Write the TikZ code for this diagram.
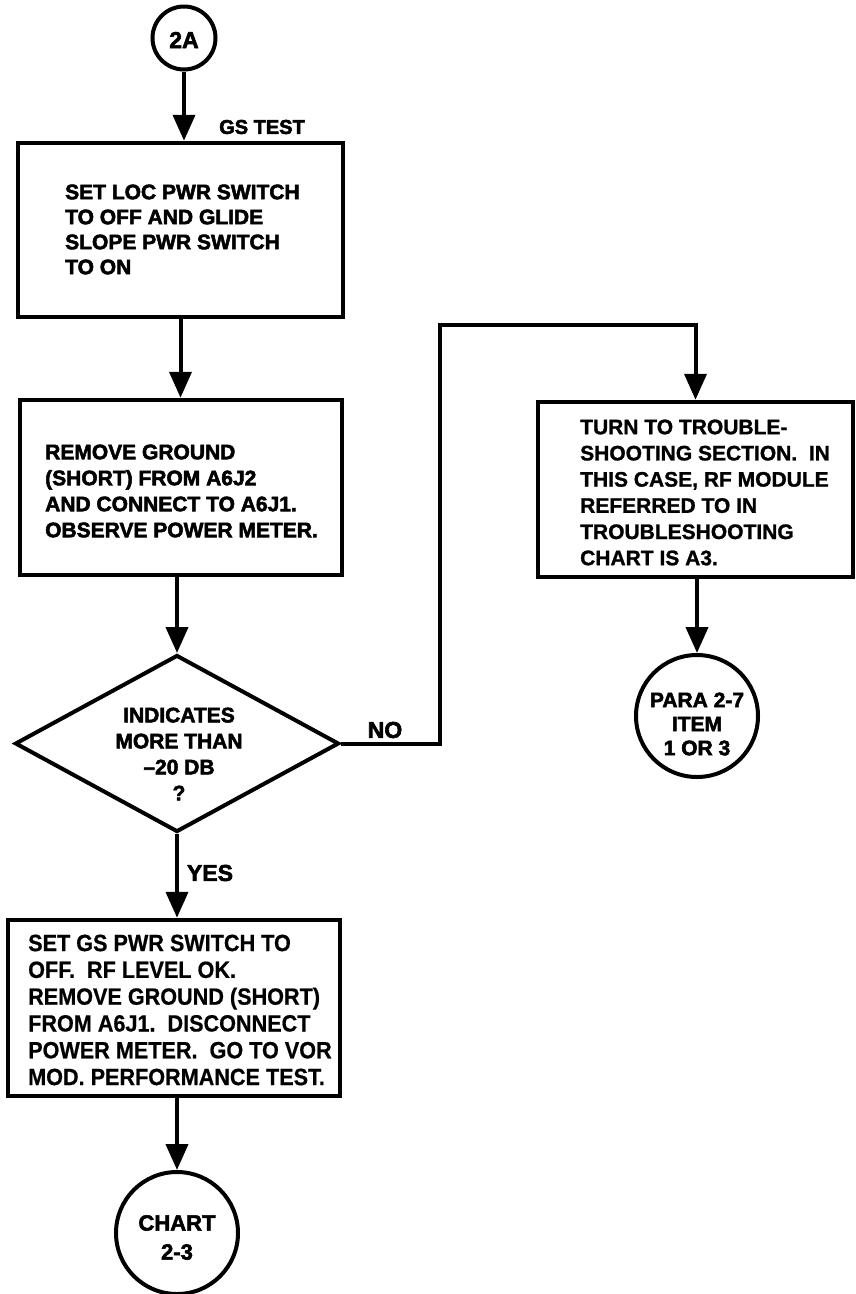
\documentclass[tikz,border=0pt]{standalone}
\usepackage{fontspec}
\setmainfont{Liberation Sans}
\newfontfamily\heavyf{Liberation Sans Bold}[FakeBold=2.5]
\newfontfamily\midf{Liberation Sans Bold}[FakeBold=1.2]
\newfontfamily\narrowf{Liberation Sans Bold}[FakeStretch=0.92,FakeBold=0.6]
\usetikzlibrary{arrows.meta,shapes.geometric}
\tikzset{
  boxnode/.style={draw, line width=4.5pt, rectangle, inner sep=0pt},
  termnode/.style={draw, line width=4pt, circle, inner sep=0pt},
  decnode/.style={draw, line width=4pt, diamond, inner sep=0pt},
  txt/.style={inner sep=0pt, align=left, anchor=west, font=\heavyf\fontsize{21}{25}\selectfont},
  ctxt/.style={inner sep=0pt, align=center, font=\heavyf\fontsize{21}{26}\selectfont},
  lbl/.style={inner sep=0pt, font=\heavyf\fontsize{23}{26}\selectfont},
  arr/.style={line width=4pt, -{Triangle[length=26pt,width=22pt]}},
  conn/.style={line width=4pt}
}
\begin{document}
\begin{tikzpicture}[x=1pt,y=-1pt]
\useasboundingbox (0,0) rectangle (856,1294);

% terminals
\node[termnode, minimum size=63pt] (c2A) at (184,38) {};
\node[ctxt, font=\heavyf\fontsize{23}{26}\selectfont] (t2A) at (184,40) {2A};

% boxes
\node[boxnode, minimum width=325pt, minimum height=174pt] (b1) at (180.5,230) {};
\node[txt] (t1) at (65,229.5) {SET LOC PWR SWITCH\\TO OFF AND GLIDE\\SLOPE PWR SWITCH\\TO ON};

\node[boxnode, minimum width=322pt, minimum height=175pt] (b2) at (181,487.5) {};
\node[txt, font=\heavyf\fontsize{21}{26}\selectfont] (t2) at (45,491) {REMOVE GROUND\\(SHORT) FROM A6J2\\AND CONNECT TO A6J1.\\OBSERVE POWER METER.};

\node[decnode, minimum width=324pt, minimum height=177pt] (d) at (177,743.5) {};
\node[ctxt] (td) at (179,754) {INDICATES\\MORE THAN\\–20 DB\\?};

\node[boxnode, minimum width=332pt, minimum height=176pt] (b4) at (174,1008) {};
\node[txt, font=\narrowf\fontsize{23.5}{26.8}\selectfont] (t4) at (28,1010) {SET GS PWR SWITCH TO\\OFF.\ \ RF LEVEL OK.\\REMOVE GROUND (SHORT)\\FROM A6J1.\ \ DISCONNECT\\POWER METER.\ \ GO TO VOR\\MOD. PERFORMANCE TEST.};

\node[termnode, minimum size=122pt] (chart) at (177,1233) {};
\node[ctxt, font=\heavyf\fontsize{22}{29}\selectfont] (tchart) at (177,1237.5) {CHART\\2-3};

\node[boxnode, minimum width=315pt, minimum height=175pt] (b3) at (695.5,489.5) {};
\node[txt, font=\midf\fontsize{21}{26.2}\selectfont] (t3) at (580,492.5) {TURN TO TROUBLE-\\SHOOTING SECTION.\ \ IN\\THIS CASE, RF MODULE\\REFERRED TO IN\\TROUBLESHOOTING\\CHART IS A3.};

\node[termnode, minimum size=122pt] (para) at (697,716) {};
\node[ctxt, font=\heavyf\fontsize{21}{24}\selectfont] (tpara) at (697,724) {PARA 2-7\\ITEM\\1 OR 3};

% labels
\node[lbl, font=\heavyf\fontsize{20}{24}\selectfont] (lgs) at (262,127) {GS TEST};
\node[lbl] (lno) at (385,730) {NO};
\node[lbl] (lyes) at (210,873) {YES};

% connectors
\coordinate (k1) at (440,325);
\draw[arr] (c2A) -- (c2A |- b1.north);
\draw[arr] (b1.south) -- (b1.south |- b2.north);
\draw[arr] (d.north |- b2.south) -- (d.north);
\draw[arr] (d.south) -- (d.south |- b4.north);
\draw[arr] (chart.north |- b4.south) -- (chart.north);
\draw[arr] (d.east) -| (k1) -| (b3.north);
\draw[arr] (para.north |- b3.south) -- (para.north);
\end{tikzpicture}
\end{document}
